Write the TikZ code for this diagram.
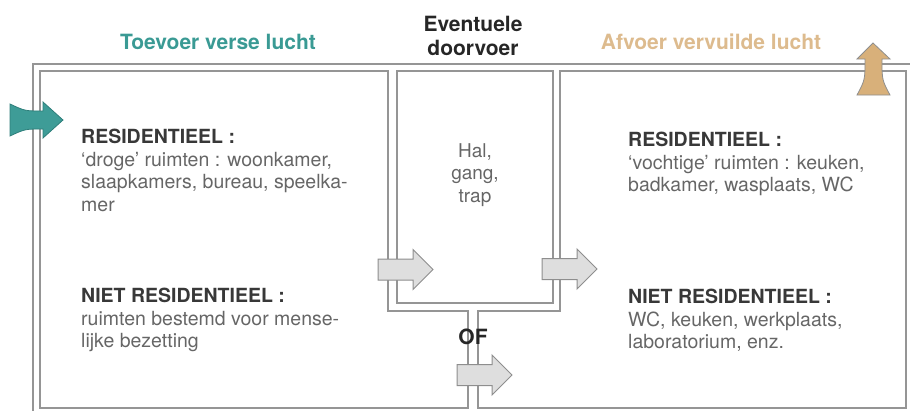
\documentclass[tikz,border=0pt]{standalone}
\usepackage{fontspec}
\setmainfont{TeX Gyre Heros}
\usetikzlibrary{positioning}
\definecolor{wallgray}{HTML}{959595}
\definecolor{arrowgray}{HTML}{8E8E8E}
\definecolor{arrowfill}{HTML}{DEDEDE}
\definecolor{airteal}{HTML}{3E9C97}
\definecolor{airtealdark}{HTML}{2E7E7A}
\definecolor{airsand}{HTML}{D8B07A}
\definecolor{tealtext}{HTML}{3A9A94}
\definecolor{sandtext}{HTML}{DDBB8E}
\definecolor{headgray}{HTML}{383838}
\definecolor{bodygray}{HTML}{666666}
\newcommand{\roomhead}[1]{{\color{headgray}\bfseries #1}}
\tikzset{
  wall/.style={draw=wallgray,line width=1.6pt,line join=miter},
  flowarrow/.style={draw=arrowgray,line width=1pt,fill=arrowfill,line join=miter},
  title/.style={font=\fontsize{21}{24}\selectfont\bfseries,align=center,inner sep=0pt},
  roomtext/.style={font=\fontsize{19.5}{22.5}\selectfont,text=bodygray,align=left,anchor=north west,inner sep=0pt},
  halltext/.style={font=\fontsize{19}{22.5}\selectfont,text=bodygray,align=center,inner sep=0pt},
  passage/.pic={\draw[flowarrow] (0,-10.5) -- (35,-10.5) -- (35,-20) -- (55,0) -- (35,20) -- (35,10.5) -- (0,10.5) -- cycle;}
}
\begin{document}
\begin{tikzpicture}[x=1pt,y=-1pt]
  \useasboundingbox (0,0) rectangle (910,410);
  % walls
  \draw[wall] (33,414) -- (33,64) -- (914,64);
  \draw[wall] (40,71) -- (388,71) -- (388,311) -- (468,311) -- (468,408) -- (40,408) -- cycle;
  \draw[wall] (397,71) rectangle (553,303);
  \draw[wall] (560,71) -- (906,71) -- (906,408) -- (478,408) -- (478,311) -- (560,311) -- cycle;
  % supply and exhaust
  \draw[draw=airtealdark,fill=airteal,line width=0.8pt] (10,104) .. controls (25,111) .. (43,111) -- (43,102) -- (63,120) -- (43,138) -- (43,129) .. controls (25,129) .. (10,136) -- cycle;
  \draw[draw=arrowgray,fill=airsand,line width=0.8pt] (873,43) -- (890,59) -- (882,59) .. controls (882,80) .. (890,95) -- (857,95) .. controls (865,80) .. (865,59) -- (857,59) -- cycle;
  % passages
  \pic at (378,269.5) {passage};
  \pic at (542,269) {passage};
  \pic at (457,375) {passage};
  % labels
  \node[title,text=tealtext] (supply) at (218,42) {Toevoer verse lucht};
  \node[title,text=black!85] (transit) at (473,36) {Eventuele\\doorvoer};
  \node[title,text=sandtext] (exhaust) at (711,42) {Afvoer vervuilde lucht};
  \node[roomtext] (dryres) at (81,129) {\roomhead{RESIDENTIEEL :}\\`droge' ruimten : woonkamer,\\slaapkamers, bureau, speelka-\\mer};
  \node[roomtext] (drynonres) at (81,288) {\roomhead{NIET RESIDENTIEEL :}\\ruimten bestemd voor mense-\\lijke bezetting};
  \node[roomtext] (wetres) at (628,132) {\roomhead{RESIDENTIEEL :}\\`vochtige' ruimten : keuken,\\badkamer, wasplaats, WC};
  \node[roomtext] (wetnonres) at (628,289) {\roomhead{NIET RESIDENTIEEL :}\\WC, keuken, werkplaats,\\laboratorium, enz.};
  \node[halltext] (hall) at (475,175) {Hal,\\gang,\\trap};
  \node[title,text=black!85] (either) at (473,337) {OF};
\end{tikzpicture}
\end{document}
